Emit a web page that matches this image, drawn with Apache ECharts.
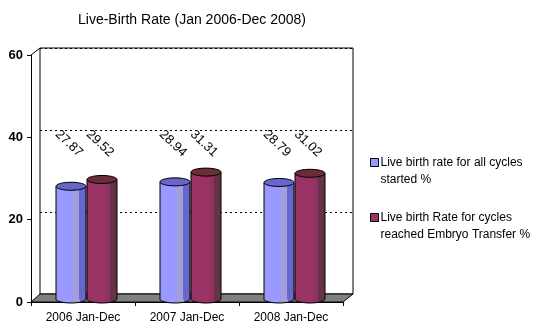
<!DOCTYPE html>
<html><head><meta charset="utf-8">
<script src="https://cdn.jsdelivr.net/npm/echarts@6/dist/echarts.min.js"></script>
<style>html,body{margin:0;padding:0;background:#fff}#c{width:547px;height:329px}</style>
</head><body><div id="c"></div>
<script>
const titleText = 'Live-Birth Rate (Jan 2006-Dec 2008)';
const categories = ['2006 Jan-Dec', '2007 Jan-Dec', '2008 Jan-Dec'];
const seriesNames = ['Live birth rate for all cycles\nstarted %', 'Live birth Rate for cycles\nreached Embryo Transfer %'];
const allCycles = [27.87, 28.94, 28.79];
const embryoTransfer = [29.52, 31.31, 31.02];
const yMin = 0, yMax = 60, yStep = 20;
const labelLevel = 38.5;

const FONT = '"Liberation Sans", Arial, sans-serif';
// layout
const front = {left: 31, right: 204, top: 55, bottom: 27};
const back = {left: 40, right: 194, top: 48, bottom: 35};
const W = 547, H = 329;

const styles = [
  {center: -12, body: ['#9999FF', '#9999FF', '#A0A0D4', '#A0A0D4', '#6666CC', '#6666CC'], top: '#6666CC'},
  {center: 19, body: ['#993366', '#993366', '#993366', '#8A3060', '#663344', '#663344'], top: '#6B2E36'}
];

function cylinder(params, api) {
  const s = styles[params.seriesIndex];
  const cat = api.value(0), v = api.value(1);
  const topP = api.coord([cat, v]);
  const baseP = api.coord([cat, 0]);
  const cx = topP[0] + s.center;
  const w = 30, rx = w / 2, ry = 4;
  const yT = topP[1] - 1, yB = baseP[1] - 3;
  const lblP = api.coord([cat, labelLevel]);
  const grad = new echarts.graphic.LinearGradient(0, 0, 1, 0, [
    {offset: 0, color: s.body[0]}, {offset: 0.55, color: s.body[1]},
    {offset: 0.551, color: s.body[2]}, {offset: 0.78, color: s.body[3]},
    {offset: 0.781, color: s.body[4]}, {offset: 1, color: s.body[5]}
  ]);
  return {
    type: 'group',
    children: [
      {type: 'ellipse', shape: {cx: cx, cy: yB, rx: rx, ry: ry}, style: {fill: grad, stroke: '#000', lineWidth: 1}},
      {type: 'rect', shape: {x: cx - rx, y: yT, width: w, height: yB - yT}, style: {fill: grad}},
      {type: 'line', shape: {x1: cx - rx, y1: yT, x2: cx - rx, y2: yB}, style: {stroke: '#000', lineWidth: 1}},
      {type: 'line', shape: {x1: cx + rx, y1: yT, x2: cx + rx, y2: yB}, style: {stroke: '#000', lineWidth: 1}},
      {type: 'ellipse', shape: {cx: cx, cy: yT, rx: rx, ry: ry}, style: {fill: s.top, stroke: '#000', lineWidth: 1}},
      {type: 'text', x: cx - 2, y: lblP[1], rotation: -0.76,
        style: {text: v.toFixed(2), align: 'center', verticalAlign: 'middle', font: '13px ' + FONT, fill: '#000'}}
    ]
  };
}

const chart = echarts.init(document.getElementById('c'), null, {renderer: 'canvas'});
chart.setOption({
  animation: false,
  backgroundColor: '#fff',
  title: {text: titleText, left: 73, top: 8, textStyle: {fontFamily: FONT, fontSize: 14, fontWeight: 'normal', color: '#000'}},
  legend: {
    orient: 'vertical', left: 370, top: 137, padding: 0, itemGap: 4, itemWidth: 8, itemHeight: 8, icon: 'rect',
    formatter: name => ' \n' + name,
    data: [
      {name: seriesNames[0], itemStyle: {color: '#9999FF', borderColor: '#000', borderWidth: 1}},
      {name: seriesNames[1], itemStyle: {color: '#993366', borderColor: '#000', borderWidth: 1}}
    ],
    textStyle: {fontFamily: FONT, fontSize: 12, color: '#000', lineHeight: 17, padding: [0, 0, 0, -3]}
  },
  grid: [
    {left: back.left, right: back.right, top: back.top, bottom: back.bottom, show: true, borderColor: '#000', borderWidth: 1, backgroundColor: '#fff'},
    {left: front.left, right: front.right, top: front.top, bottom: front.bottom}
  ],
  xAxis: [
    {gridIndex: 0, type: 'category', data: categories, show: false},
    {gridIndex: 1, type: 'category', data: categories,
      axisLine: {lineStyle: {color: '#000', width: 1}},
      axisTick: {show: true, length: 4, lineStyle: {color: '#000'}},
      axisLabel: {fontFamily: FONT, fontSize: 12, color: '#000', margin: 10}}
  ],
  yAxis: [
    {gridIndex: 0, type: 'value', min: yMin, max: yMax, interval: yStep,
      axisLine: {show: false}, axisTick: {show: false}, axisLabel: {show: false},
      splitLine: {show: true, lineStyle: {color: '#000', type: [2, 3], width: 1}}},
    {gridIndex: 1, type: 'value', min: yMin, max: yMax, interval: yStep,
      axisLine: {show: true, lineStyle: {color: '#000', width: 1}},
      axisTick: {show: true, length: 4, lineStyle: {color: '#000'}},
      axisLabel: {fontFamily: FONT, fontSize: 13, fontWeight: 'bold', color: '#000', margin: 8},
      splitLine: {show: false}}
  ],
  graphic: [
    {type: 'polygon', z: 1, shape: {points: [[front.left, H - front.bottom], [W - front.right, H - front.bottom], [W - back.right, H - back.bottom], [back.left, H - back.bottom]]},
      style: {fill: '#808080', stroke: '#000', lineWidth: 1}},
    {type: 'line', z: 1, shape: {x1: front.left, y1: front.top, x2: back.left, y2: back.top}, style: {stroke: '#000', lineWidth: 1}}
  ],
  series: [
    {name: seriesNames[0], type: 'custom', xAxisIndex: 1, yAxisIndex: 1, z: 5, renderItem: cylinder,
      data: categories.map((c, i) => [i, allCycles[i]]), itemStyle: {color: '#9999FF'}},
    {name: seriesNames[1], type: 'custom', xAxisIndex: 1, yAxisIndex: 1, z: 5, renderItem: cylinder,
      data: categories.map((c, i) => [i, embryoTransfer[i]]), itemStyle: {color: '#993366'}}
  ]
});
</script></body></html>
